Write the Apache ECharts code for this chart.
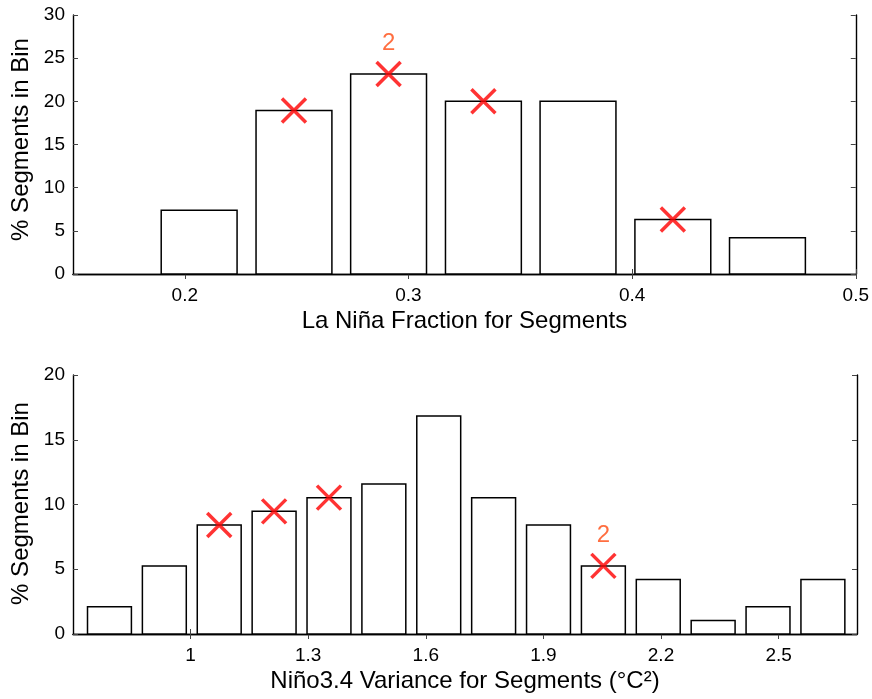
<!DOCTYPE html>
<html>
<head>
<meta charset="utf-8">
<script src="https://cdn.jsdelivr.net/npm/echarts@6/dist/echarts.min.js"></script>
<style>
  html, body { margin: 0; padding: 0; background: #fff; }
  #chart { width: 872px; height: 699px; }
</style>
</head>
<body>
<div id="chart"></div>
<script>
// 上图: La Niña 比例直方图
var topCenters = [0.2064, 0.2488, 0.2911, 0.3335, 0.3758, 0.4182, 0.4605];
var topValues = [7.37, 18.95, 23.16, 20.0, 20.0, 6.32, 4.21];
var topBinWidth = 0.0424;
var topMarks = [1, 2, 3, 5];       // 打叉的柱子序号
var topMarkCounts = [1, 2, 1, 1];  // 叉上方的数字(>1 时显示)
var topTicks = [0.2, 0.3, 0.4, 0.5];

// 下图: Niño3.4 方差直方图
var botCenters = [0.793, 0.933, 1.073, 1.213, 1.353, 1.493, 1.633, 1.773, 1.913, 2.053, 2.193, 2.333, 2.473, 2.613];
var botValues = [2.11, 5.26, 8.42, 9.47, 10.53, 11.58, 16.84, 10.53, 8.42, 5.26, 4.21, 1.05, 2.11, 4.21];
var botBinWidth = 0.14;
var botMarks = [2, 3, 4, 9];
var botMarkCounts = [1, 1, 1, 2];
var botTicks = [1, 1.3, 1.6, 1.9, 2.2, 2.5];

var FONT = "'Liberation Sans', Arial, Helvetica, sans-serif";
var barRatio = 0.8;

var chart = echarts.init(document.getElementById('chart'));

function binData(centers, values) {
  var d = [];
  for (var i = 0; i < centers.length; i++) {
    d.push([centers[i], values[i]]);
  }
  return d;
}
function markData(centers, values, marks, counts) {
  var d = [];
  for (var i = 0; i < marks.length; i++) {
    var k = marks[i];
    d.push({
      value: [centers[k], values[k]],
      label: { show: counts[i] > 1, formatter: String(counts[i]) }
    });
  }
  return d;
}
//柱子: 用坐标系换算画矩形
function barRender(binWidth) {
  return function (params, api) {
    var c = api.value(0), h = api.value(1);
    var half = binWidth * barRatio / 2;
    var p0 = api.coord([c - half, h]);
    var p1 = api.coord([c + half, 0]);
    return {
      type: 'rect',
      shape: { x: p0[0], y: p0[1], width: p1[0] - p0[0], height: p1[1] - p0[1] },
      style: { fill: '#fff', stroke: '#000', lineWidth: 1.5 }
    };
  };
}

function xAxes(gridIndex, min, max, ticks, name) {
  return [{
    type: 'value', gridIndex: gridIndex, position: 'bottom',
    min: min, max: max,
    name: name, nameLocation: 'middle', nameGap: 35,
    nameTextStyle: { fontFamily: FONT, fontSize: 24, color: '#000' },
    splitLine: { show: false },
    axisLine: { show: true, lineStyle: { color: '#000', width: 1.4 } },
    axisTick: { show: true, inside: true, length: 5, customValues: ticks, lineStyle: { color: '#444' } },
    axisLabel: { show: true, customValues: ticks, fontFamily: FONT, fontSize: 19, color: '#000', margin: 12 }
  }, {
    type: 'value', gridIndex: gridIndex, position: 'top',
    min: min, max: max,
    splitLine: { show: false },
    axisLine: { show: true, lineStyle: { color: '#000', width: 1.4 } },
    axisTick: { show: true, inside: true, length: 5, customValues: ticks, lineStyle: { color: '#444' } },
    axisLabel: { show: false }
  }];
}
function yAxes(gridIndex, max, pad) {
  return [{
    type: 'value', gridIndex: gridIndex, position: 'left',
    min: 0, max: max, interval: 5,
    name: '% Segments in Bin', nameLocation: 'middle', nameGap: 38,
    nameTextStyle: { fontFamily: FONT, fontSize: 24, color: '#000', padding: pad },
    splitLine: { show: false },
    axisLine: { show: true, lineStyle: { color: '#000', width: 1.4 } },
    axisTick: { show: true, inside: true, length: 5, lineStyle: { color: '#444' } },
    axisLabel: { fontFamily: FONT, fontSize: 19, color: '#000', margin: 8 }
  }, {
    type: 'value', gridIndex: gridIndex, position: 'right',
    min: 0, max: max, interval: 5,
    splitLine: { show: false },
    axisLine: { show: true, lineStyle: { color: '#000', width: 1.4 } },
    axisTick: { show: true, inside: true, length: 5, lineStyle: { color: '#444' } },
    axisLabel: { show: false }
  }];
}

var crossSymbol = 'path://M0,0L10,10M10,0L0,10';
function crossSeries(xi, yi, data) {
  return {
    type: 'scatter', xAxisIndex: xi, yAxisIndex: yi,
    symbol: crossSymbol, symbolSize: 24,
    itemStyle: { color: 'none', borderColor: '#ff0000', borderWidth: 3.5 },
    label: { position: 'top', distance: 4, fontFamily: FONT, fontSize: 24, color: '#ff4a10' },
    data: data, z: 5, silent: true
  };
}

var option = {
  backgroundColor: '#fff',
  animation: false,
  grid: [
    { left: 73, right: 15, top: 15, height: 259 },
    { left: 73, right: 15, top: 375, height: 259 }
  ],
  xAxis: xAxes(0, 0.15, 0.5, topTicks, 'La Niña Fraction for Segments')
    .concat(xAxes(1, 0.7, 2.7, botTicks, 'Niño3.4 Variance for Segments (°C²)')),
  yAxis: yAxes(0, 30, [0, 0, 0, 10]).concat(yAxes(1, 20, [0, 0, 0, 2])),
  series: [
    {
      type: 'custom', xAxisIndex: 0, yAxisIndex: 0,
      renderItem: barRender(topBinWidth),
      data: binData(topCenters, topValues)
    },
    crossSeries(0, 0, markData(topCenters, topValues, topMarks, topMarkCounts)),
    {
      type: 'custom', xAxisIndex: 2, yAxisIndex: 2,
      renderItem: barRender(botBinWidth),
      data: binData(botCenters, botValues)
    },
    crossSeries(2, 2, markData(botCenters, botValues, botMarks, botMarkCounts))
  ]
};
chart.setOption(option);
</script>
</body>
</html>
